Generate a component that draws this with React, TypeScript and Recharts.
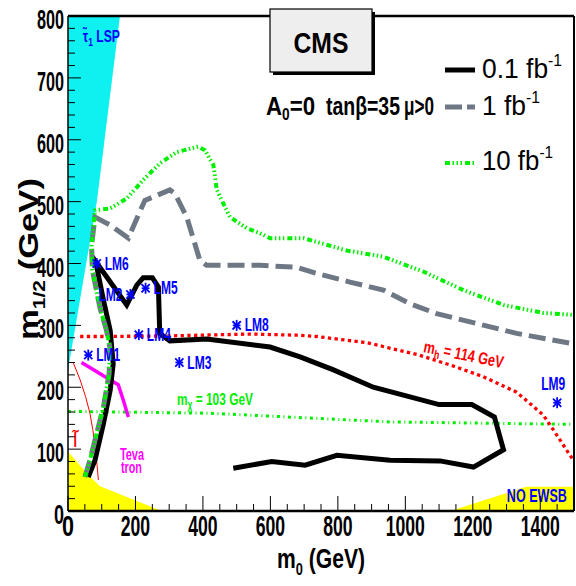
import React from 'react';
import {
  ComposedChart, Line, Area, Scatter, XAxis, YAxis, ReferenceLine, ReferenceDot,
} from 'recharts';

const W = 576;
const H = 586;
const FONT = "'Liberation Sans Narrow', 'Liberation Sans', Arial, sans-serif";

// ---- tick values ----
const xTicks = [0, 50, 100, 150, 200, 250, 300, 350, 400, 450, 500, 550, 600, 650, 700, 750, 800, 850, 900, 950, 1000, 1050, 1100, 1150, 1200, 1250, 1300, 1350, 1400, 1450, 1500];
const xMajor = [0, 200, 400, 600, 800, 1000, 1200, 1400];
const yTicks = [0, 20, 40, 60, 80, 100, 120, 140, 160, 180, 200, 220, 240, 260, 280, 300, 320, 340, 360, 380, 400, 420, 440, 460, 480, 500, 520, 540, 560, 580, 600, 620, 640, 660, 680, 700, 720, 740, 760, 780, 800];
const yMajor = [0, 100, 200, 300, 400, 500, 600, 700, 800];

// ---- excluded regions ----
const stauLSPRegion = [
  { m0: 0, r: [228, 800] },
  { m0: 86, r: [502, 800] },
  { m0: 154, r: [800, 800] },
];
const tachyonRegion = [
  { m0: 0, r: [0, 96] },
  { m0: 60, r: [0, 58] },
  { m0: 95, r: [0, 40] },
  { m0: 278, r: [0, 0] },
];
const noEwsbRegion = [
  { m0: 1133, r: [0, 0] },
  { m0: 1357, r: [0, 39] },
  { m0: 1500, r: [0, 39] },
];

// ---- reach contours ----
const reach01 = [
  { m0: 490, m12: 69 }, { m0: 604, m12: 80 }, { m0: 703, m12: 74 }, { m0: 797, m12: 90 },
  { m0: 955, m12: 82 }, { m0: 1103, m12: 81 }, { m0: 1202, m12: 71 }, { m0: 1291, m12: 99 },
  { m0: 1264, m12: 152 }, { m0: 1197, m12: 172 }, { m0: 1100, m12: 172 }, { m0: 905, m12: 200 },
  { m0: 787, m12: 228 }, { m0: 688, m12: 249 }, { m0: 599, m12: 265 }, { m0: 411, m12: 278 },
  { m0: 302, m12: 275 }, { m0: 272, m12: 287 }, { m0: 268, m12: 362 }, { m0: 250, m12: 377 },
  { m0: 223, m12: 377 }, { m0: 204, m12: 365 }, { m0: 174, m12: 333 }, { m0: 72, m12: 411 },
  { m0: 85, m12: 395 }, { m0: 105, m12: 341 }, { m0: 125, m12: 292 }, { m0: 134, m12: 238 },
  { m0: 125, m12: 195 }, { m0: 105, m12: 141 }, { m0: 80, m12: 82 }, { m0: 60, m12: 55 },
];
const reach1 = [
  { m0: 50, m12: 55 }, { m0: 65, m12: 82 }, { m0: 105, m12: 168 }, { m0: 122, m12: 222 },
  { m0: 124, m12: 265 }, { m0: 114, m12: 292 }, { m0: 95, m12: 328 }, { m0: 72, m12: 390 },
  { m0: 70, m12: 430 }, { m0: 80, m12: 475 }, { m0: 125, m12: 462 }, { m0: 179, m12: 441 },
  { m0: 213, m12: 484 }, { m0: 228, m12: 502 }, { m0: 302, m12: 519 }, { m0: 317, m12: 513 },
  { m0: 352, m12: 475 }, { m0: 391, m12: 405 }, { m0: 411, m12: 397 }, { m0: 569, m12: 397 },
  { m0: 678, m12: 394 }, { m0: 737, m12: 384 }, { m0: 836, m12: 370 }, { m0: 935, m12: 357 },
  { m0: 1014, m12: 335 }, { m0: 1093, m12: 319 }, { m0: 1212, m12: 303 }, { m0: 1330, m12: 287 },
  { m0: 1500, m12: 270 },
];
const reach10 = [
  { m0: 50, m12: 55 }, { m0: 65, m12: 82 }, { m0: 105, m12: 168 }, { m0: 122, m12: 222 },
  { m0: 124, m12: 265 }, { m0: 114, m12: 292 }, { m0: 95, m12: 328 }, { m0: 72, m12: 390 },
  { m0: 70, m12: 430 }, { m0: 80, m12: 486 }, { m0: 125, m12: 489 }, { m0: 174, m12: 505 },
  { m0: 223, m12: 535 }, { m0: 273, m12: 562 }, { m0: 322, m12: 580 }, { m0: 386, m12: 589 },
  { m0: 406, m12: 583 }, { m0: 431, m12: 559 }, { m0: 441, m12: 519 }, { m0: 480, m12: 475 },
  { m0: 530, m12: 457 }, { m0: 569, m12: 449 }, { m0: 599, m12: 441 }, { m0: 698, m12: 441 },
  { m0: 826, m12: 421 }, { m0: 935, m12: 411 }, { m0: 1053, m12: 387 }, { m0: 1172, m12: 357 },
  { m0: 1291, m12: 333 }, { m0: 1409, m12: 320 }, { m0: 1500, m12: 317 },
];

// ---- iso-mass / exclusion lines ----
const higgs114 = [
  { m0: 36, m12: 282 }, { m0: 95, m12: 282 }, { m0: 300, m12: 283 }, { m0: 540, m12: 286 },
  { m0: 688, m12: 284 }, { m0: 737, m12: 282 }, { m0: 886, m12: 272 }, { m0: 1034, m12: 253 },
  { m0: 1133, m12: 236 }, { m0: 1231, m12: 217 }, { m0: 1330, m12: 192 }, { m0: 1409, m12: 155 },
  { m0: 1439, m12: 131 }, { m0: 1498, m12: 82 },
];
const chargino103 = [
  { m0: 0, m12: 161 }, { m0: 421, m12: 158 }, { m0: 955, m12: 144 }, { m0: 1500, m12: 140 },
];
const tevatron = [
  { m0: 40, m12: 240 }, { m0: 149, m12: 204 }, { m0: 164, m12: 179 }, { m0: 179, m12: 152 },
];
const slepton = [
  { m0: 16, m12: 239 }, { m0: 36, m12: 212 }, { m0: 52, m12: 185 }, { m0: 65, m12: 158 },
  { m0: 74, m12: 130 }, { m0: 80, m12: 104 }, { m0: 86, m12: 75 }, { m0: 90, m12: 50 },
];

// ---- benchmark points ----
const lmPoints = [
  { m0: 60, m12: 252, name: 'LM1' },
  { m0: 185, m12: 350, name: 'LM2' },
  { m0: 330, m12: 240, name: 'LM3' },
  { m0: 210, m12: 285, name: 'LM4' },
  { m0: 230, m12: 360, name: 'LM5' },
  { m0: 85, m12: 400, name: 'LM6' },
  { m0: 500, m12: 300, name: 'LM8' },
  { m0: 1450, m12: 175, name: 'LM9' },
];
const lmLabelSide: Record<string, string> = {
  LM1: 'right', LM2: 'left', LM3: 'right', LM4: 'right', LM5: 'right', LM6: 'right', LM8: 'right', LM9: 'top',
};

const BLUE = '#0000ff';
const GREEN = '#00ee00';
const GREY = '#6e7884';
const RED = '#ff0000';
const MAGENTA = '#ff00ff';
const CYAN = '#0ff0f0';
const YELLOW = '#ffff00';

const XTick = (p: any) => {
  const { x, y, payload } = p;
  const v = payload.value;
  const major = xMajor.includes(v);
  const s = String(v);
  return (
    <g>
      <line x1={x} x2={x} y1={y} y2={y - (major ? 15 : 7)} stroke="#000" strokeWidth={1} />
      {major && (
        <text x={x} y={y + 25} textAnchor="middle" fontFamily={FONT} fontWeight="bold" fontSize={29}
          fill="#000" textLength={s.length === 1 ? 12 : s.length * 9.8} lengthAdjust="spacingAndGlyphs">{s}</text>
      )}
    </g>
  );
};

const YTick = (p: any) => {
  const { x, y, payload } = p;
  const v = payload.value;
  const major = yMajor.includes(v);
  const s = String(v);
  return (
    <g>
      <line x1={x} x2={x + (major ? 13 : 7)} y1={y} y2={y} stroke="#000" strokeWidth={1} />
      {major && (
        <text x={x - 4} y={y + 13} textAnchor="end" fontFamily={FONT} fontWeight="bold" fontSize={28}
          fill="#000" textLength={s.length === 1 ? 10 : s.length * 9} lengthAdjust="spacingAndGlyphs">{s}</text>
      )}
    </g>
  );
};

const LMStar = (p: any) => {
  const { cx, cy, payload } = p;
  if (cx == null || cy == null) return <g />;
  const s = 5.5;
  const d = s * 0.75;
  const side = lmLabelSide[payload.name];
  let tx = cx + 8;
  let ty = cy + 6;
  let anchor: any = 'start';
  if (side === 'left') { tx = cx - 8; anchor = 'end'; ty = cy + 7; }
  if (side === 'top') { tx = cx - 4; ty = cy - 13; anchor = 'middle'; }
  return (
    <g>
      <line x1={cx} y1={cy - s} x2={cx} y2={cy + s} stroke={BLUE} strokeWidth={1.8} />
      <line x1={cx - s * 0.7} y1={cy} x2={cx + s * 0.7} y2={cy} stroke={BLUE} strokeWidth={1.8} />
      <line x1={cx - d} y1={cy - d} x2={cx + d} y2={cy + d} stroke={BLUE} strokeWidth={1.8} />
      <line x1={cx - d} y1={cy + d} x2={cx + d} y2={cy - d} stroke={BLUE} strokeWidth={1.8} />
      <text x={tx} y={ty} textAnchor={anchor} fontFamily={FONT} fontWeight="bold" fontSize={18}
        fill={BLUE} textLength={24} lengthAdjust="spacingAndGlyphs">{payload.name}</text>
    </g>
  );
};

export default function App() {
  return (
    <div style={{ position: 'absolute', left: 0, top: 0, width: W, height: H, background: '#fff' }}>
      <ComposedChart width={W} height={H} margin={{ top: 16, right: 2, bottom: 0, left: 0 }}>
        <XAxis type="number" dataKey="m0" domain={[0, 1500]} ticks={xTicks} interval={0}
          tick={(p: any) => <XTick {...p} />} tickLine={false} tickSize={0} tickMargin={0}
          height={75} axisLine={{ stroke: '#000', strokeWidth: 2.5 }} allowDataOverflow />
        <YAxis type="number" domain={[0, 800]} ticks={yTicks} interval={0}
          tick={(p: any) => <YTick {...p} />} tickLine={false} tickSize={0} tickMargin={0}
          width={68} axisLine={{ stroke: '#000', strokeWidth: 1.5 }} allowDataOverflow />

        <Area data={stauLSPRegion} dataKey="r" type="linear" stroke="none" fill={CYAN} fillOpacity={1}
          isAnimationActive={false} dot={false} activeDot={false} />
        <Area data={tachyonRegion} dataKey="r" type="linear" stroke="none" fill={YELLOW} fillOpacity={1}
          isAnimationActive={false} dot={false} activeDot={false} />
        <Area data={noEwsbRegion} dataKey="r" type="linear" stroke="none" fill={YELLOW} fillOpacity={1}
          isAnimationActive={false} dot={false} activeDot={false} />

        <Line data={slepton} dataKey="m12" type="linear" stroke={RED} strokeWidth={1} dot={false}
          activeDot={false} isAnimationActive={false} />
        <Line data={chargino103} dataKey="m12" type="linear" stroke={GREEN} strokeWidth={3}
          strokeDasharray="3 3.5 1 3.5" dot={false} activeDot={false} isAnimationActive={false} />
        <Line data={higgs114} dataKey="m12" type="linear" stroke={RED} strokeWidth={3.3}
          strokeDasharray="3.3 3.4" dot={false} activeDot={false} isAnimationActive={false} />
        <Line data={tevatron} dataKey="m12" type="linear" stroke={MAGENTA} strokeWidth={3.5}
          dot={false} activeDot={false} isAnimationActive={false} />
        <Line data={reach01} dataKey="m12" type="linear" stroke="#000" strokeWidth={5}
          strokeLinejoin="miter" dot={false} activeDot={false} isAnimationActive={false} />
        <Line data={reach1} dataKey="m12" type="linear" stroke={GREY} strokeWidth={5}
          strokeDasharray="17 7" dot={false} activeDot={false} isAnimationActive={false} />
        <Line data={reach10} dataKey="m12" type="linear" stroke={GREEN} strokeWidth={4}
          strokeDasharray="5 2.5 1.5 2.5 1.5 2.5 1.5 3" dot={false} activeDot={false} isAnimationActive={false} />

        <ReferenceLine y={800} stroke="#000" strokeWidth={2.5} ifOverflow="visible" />
        <ReferenceLine x={1500} stroke="#000" strokeWidth={2} ifOverflow="visible" />

        <Scatter data={lmPoints} dataKey="m12" shape={(p: any) => <LMStar {...p} />} isAnimationActive={false} />

        <ReferenceDot x={44} y={758} r={0} ifOverflow="visible" shape={(p: any) => (
          <text x={p.cx} y={p.cy} fontFamily={FONT} fontWeight="bold" fontSize={16} fill={BLUE}
            textLength={37} lengthAdjust="spacingAndGlyphs">
            τ̃<tspan dy={4} fontSize={11}>1</tspan><tspan dy={-4}> LSP</tspan>
          </text>
        )} />
        <ReferenceDot x={1052} y={257} r={0} ifOverflow="visible" shape={(p: any) => (
          <text x={p.cx} y={p.cy} transform={`rotate(11.5 ${p.cx} ${p.cy})`} fontFamily={FONT}
            fontWeight="bold" fontSize={17} fill={RED} textLength={81} lengthAdjust="spacingAndGlyphs">
            m<tspan dy={4} fontSize={12}>h</tspan><tspan dy={-4}> = 114 GeV</tspan>
          </text>
        )} />
        <ReferenceDot x={323} y={172} r={0} ifOverflow="visible" shape={(p: any) => (
          <text x={p.cx} y={p.cy} fontFamily={FONT} fontWeight="bold" fontSize={17} fill={GREEN}
            textLength={76} lengthAdjust="spacingAndGlyphs">
            m<tspan dy={4} fontSize={12}>χ</tspan><tspan dy={-4}> = 103 GeV</tspan>
          </text>
        )} />
        <ReferenceDot x={154} y={82} r={0} ifOverflow="visible" shape={(p: any) => (
          <text x={p.cx} y={p.cy} fontFamily={FONT} fontWeight="bold" fontSize={16} fill={MAGENTA}
            textLength={24} lengthAdjust="spacingAndGlyphs">Teva</text>
        )} />
        <ReferenceDot x={157} y={61} r={0} ifOverflow="visible" shape={(p: any) => (
          <text x={p.cx} y={p.cy} fontFamily={FONT} fontWeight="bold" fontSize={16} fill={MAGENTA}
            textLength={21} lengthAdjust="spacingAndGlyphs">tron</text>
        )} />
        <ReferenceDot x={15} y={103} r={0} ifOverflow="visible" shape={(p: any) => (
          <text x={p.cx} y={p.cy} fontFamily={FONT} fontSize={20} fill={RED}>l̃</text>
        )} />
        <ReferenceDot x={1301} y={15} r={0} ifOverflow="visible" shape={(p: any) => (
          <text x={p.cx} y={p.cy} fontFamily={FONT} fontWeight="bold" fontSize={18} fill={BLUE}
            textLength={60} lengthAdjust="spacingAndGlyphs">NO EWSB</text>
        )} />
      </ComposedChart>

      <svg width={W} height={H} style={{ position: 'absolute', left: 0, top: 0, pointerEvents: 'none' }}>
        {/* CMS box */}
        <rect x={273} y={12} width={102} height={63} fill="#000" />
        <rect x={270} y={9} width={102} height={63} fill="#eeeeee" stroke="#000" strokeWidth={1.2} />
        <text x={321} y={53} textAnchor="middle" fontFamily={FONT} fontWeight="bold" fontSize={29}
          textLength={55} lengthAdjust="spacingAndGlyphs">CMS</text>

        {/* parameters */}
        <text x={266} y={115} fontFamily={FONT} fontWeight="bold" fontSize={26}
          textLength={49} lengthAdjust="spacingAndGlyphs">A<tspan dy={5} fontSize={16}>0</tspan><tspan dy={-5}>=0</tspan></text>
        <text x={326} y={115} fontFamily={FONT} fontWeight="bold" fontSize={26}
          textLength={74} lengthAdjust="spacingAndGlyphs">tanβ=35</text>
        <text x={404} y={115} fontFamily={FONT} fontWeight="bold" fontSize={26}
          textLength={30} lengthAdjust="spacingAndGlyphs">μ&gt;0</text>

        {/* legend */}
        <line x1={445} y1={70} x2={475} y2={70} stroke="#000" strokeWidth={5} />
        <line x1={445} y1={107} x2={475} y2={107} stroke={GREY} strokeWidth={5} strokeDasharray="17 5 8 10" />
        <line x1={445} y1={163} x2={475} y2={163} stroke={GREEN} strokeWidth={4}
          strokeDasharray="5 2.5 1.5 2.5 1.5 2.5 1.5 3" />
        <text x={482} y={78} fontFamily={FONT} fontSize={27} textLength={80} lengthAdjust="spacingAndGlyphs">
          0.1 fb<tspan dy={-12} fontSize={16}>-1</tspan>
        </text>
        <text x={482} y={115} fontFamily={FONT} fontSize={27} textLength={58} lengthAdjust="spacingAndGlyphs">
          1 fb<tspan dy={-12} fontSize={16}>-1</tspan>
        </text>
        <text x={482} y={170} fontFamily={FONT} fontSize={27} textLength={71} lengthAdjust="spacingAndGlyphs">
          10 fb<tspan dy={-12} fontSize={16}>-1</tspan>
        </text>

        {/* axis titles */}
        <text x={277} y={568} fontFamily={FONT} fontWeight="bold" fontSize={28}
          textLength={88} lengthAdjust="spacingAndGlyphs">
          m<tspan dy={7} fontSize={17}>0</tspan><tspan dy={-7}> (GeV)</tspan>
        </text>
        <text transform="translate(38 340) rotate(-90)" x={0} y={0} fontFamily={FONT} fontWeight="bold"
          fontSize={28} textLength={162} lengthAdjust="spacingAndGlyphs">
          m<tspan dy={7} fontSize={17}>1/2</tspan><tspan dy={-7}> (GeV)</tspan>
        </text>
      </svg>
    </div>
  );
}
